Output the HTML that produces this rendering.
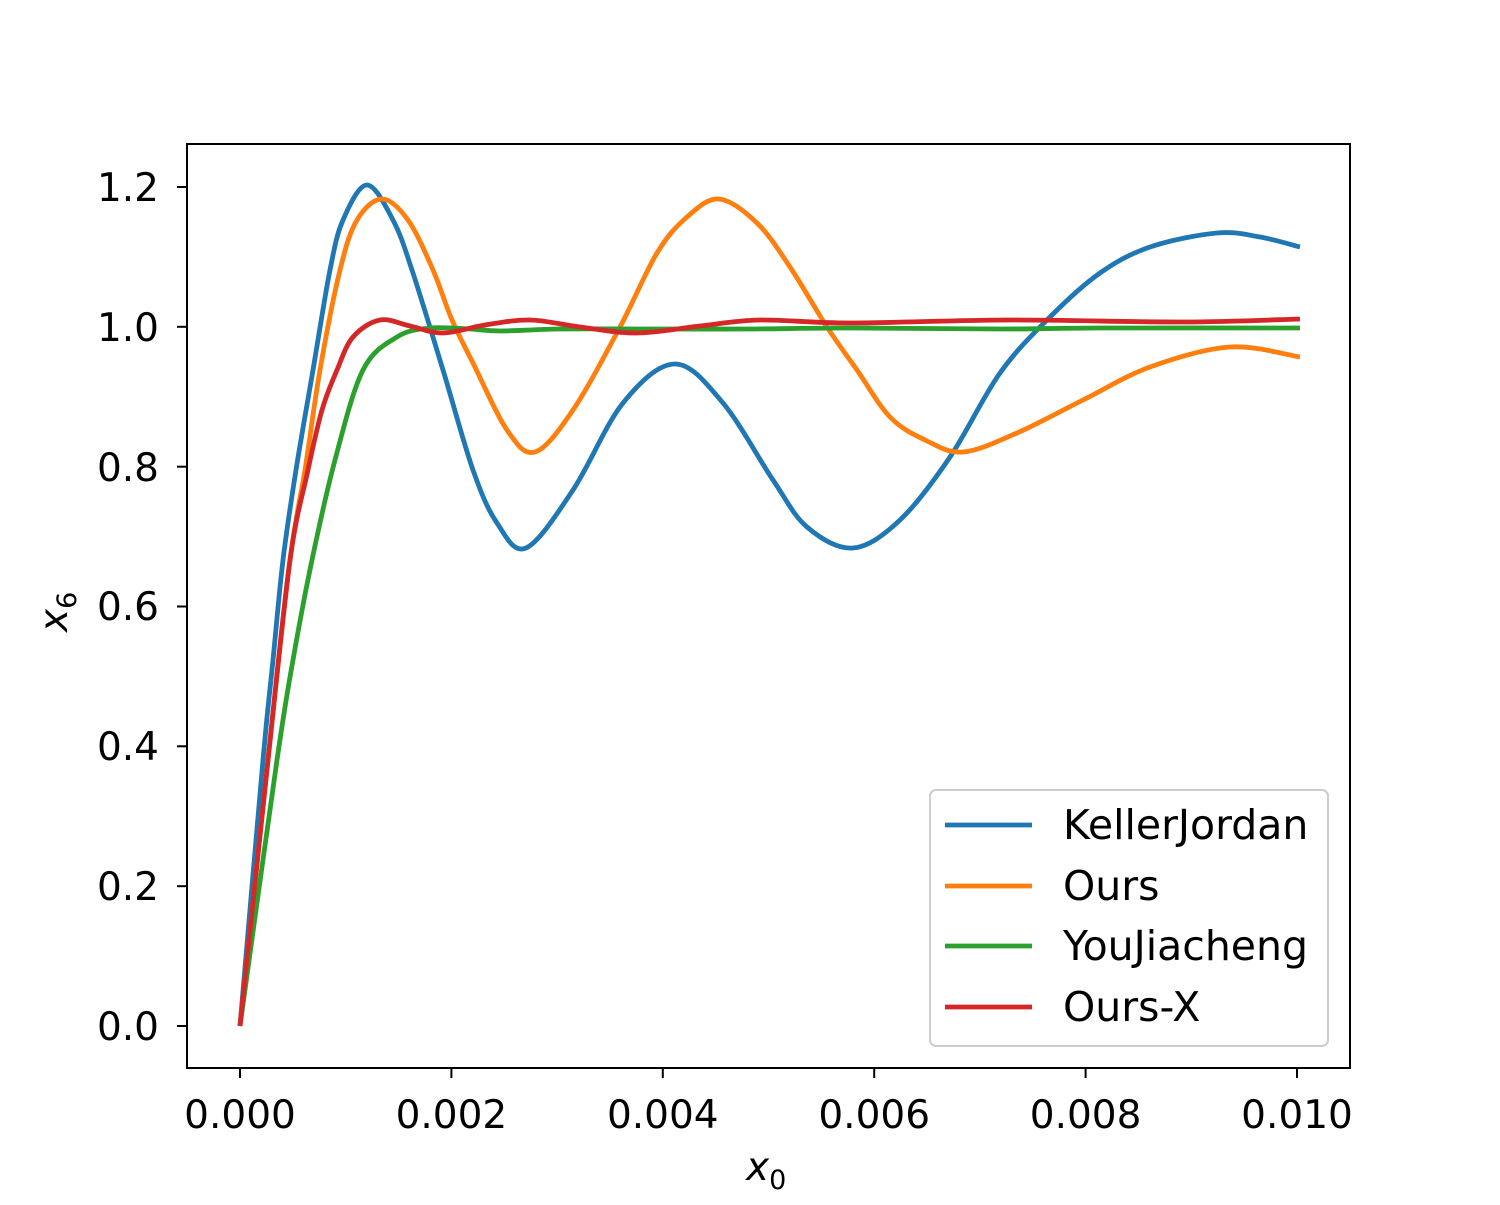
<!DOCTYPE html>
<html><head><meta charset="utf-8"><style>body{margin:0;background:#fff}</style></head><body>
<svg id="s" width="1500" height="1200" xmlns="http://www.w3.org/2000/svg" font-family="'DejaVu Sans','Liberation Sans',sans-serif">
<rect width="1500" height="1200" fill="#fff"/>
<g id="curves" fill="none" stroke-width="4.8" stroke-linejoin="round" stroke-linecap="butt"></g>
<rect x="187" y="144" width="1163" height="924" fill="none" stroke="#000" stroke-width="2"/>
<g stroke="#000" stroke-width="2">
<line x1="240" y1="1068" x2="240" y2="1078"/><line x1="451.4" y1="1068" x2="451.4" y2="1078"/><line x1="662.8" y1="1068" x2="662.8" y2="1078"/><line x1="874.2" y1="1068" x2="874.2" y2="1078"/><line x1="1085.6" y1="1068" x2="1085.6" y2="1078"/><line x1="1297" y1="1068" x2="1297" y2="1078"/>
<line x1="177" y1="1026" x2="187" y2="1026"/><line x1="177" y1="886.2" x2="187" y2="886.2"/><line x1="177" y1="746.3" x2="187" y2="746.3"/><line x1="177" y1="606.5" x2="187" y2="606.5"/><line x1="177" y1="466.7" x2="187" y2="466.7"/><line x1="177" y1="326.8" x2="187" y2="326.8"/><line x1="177" y1="187" x2="187" y2="187"/>
</g>
<g font-size="39" text-anchor="middle" fill="#000">
<text x="240" y="1128">0.000</text><text x="451.4" y="1128">0.002</text><text x="662.8" y="1128">0.004</text><text x="874.2" y="1128">0.006</text><text x="1085.6" y="1128">0.008</text><text x="1297" y="1128">0.010</text>
</g>
<g font-size="39" text-anchor="end" fill="#000">
<text x="159" y="1040">0.0</text><text x="159" y="900">0.2</text><text x="159" y="760">0.4</text><text x="159" y="620">0.6</text><text x="159" y="481">0.8</text><text x="159" y="341">1.0</text><text x="159" y="201">1.2</text>
</g>
<text x="746" y="1180" font-size="39" font-style="italic">x<tspan font-size="27" dy="9" font-style="normal">0</tspan></text>
<text transform="translate(67,632) rotate(-90)" font-size="39" font-style="italic">x<tspan font-size="27" dy="9" font-style="normal">6</tspan></text>
<rect x="930" y="790" width="398" height="256" rx="6" fill="#fff" fill-opacity="0.8" stroke="#ccc" stroke-width="2"/>
<g stroke-width="4.8">
<line x1="945" y1="825" x2="1032" y2="825" stroke="#1f77b4"/>
<line x1="945" y1="886" x2="1032" y2="886" stroke="#ff7f0e"/>
<line x1="945" y1="946" x2="1032" y2="946" stroke="#2ca02c"/>
<line x1="945" y1="1007" x2="1032" y2="1007" stroke="#d62728"/>
</g>
<g font-size="41" fill="#000">
<text x="1063" y="839">KellerJordan</text><text x="1063" y="900">Ours</text><text x="1063" y="960">YouJiacheng</text><text x="1063" y="1021">Ours-X</text>
</g>
</svg>
<script>
var D={
"#1f77b4":[[240,1026],[263,760],[273,660],[283,560],[296,470],[313,370],[330,270],[343,220],[367,185],[393,220],[412,270],[443,370],[473,470],[497,523],[526,548],[573,490],[623,403],[675,364],[723,403],[773,480],[807,527],[853,548],[900,520],[950,457],[1000,373],[1050,317],[1100,273],[1150,247],[1217,233],[1260,237],[1300,247]],
"#ff7f0e":[[240,1026],[268,760],[290,560],[305,470],[320,370],[340,270],[357,220],[382,199],[408,220],[433,270],[452,320],[473,363],[507,430],[535,452],[573,410],[620,327],[657,253],[687,217],[719,199],[757,223],[790,267],[827,327],[857,370],[890,417],[925,440],[963,452],[1017,433],[1083,400],[1150,367],[1230,347],[1300,357]],
"#2ca02c":[[240,1026],[277,760],[293,660],[312,560],[335,460],[363,370],[397,337],[430,328],[470,329],[500,331],[560,329],[650,329],[750,329],[850,328],[1000,329],[1100,328],[1300,328]],
"#d62728":[[240,1026],[268,760],[290,560],[308,470],[322,410],[337,370],[353,337],[380,320],[410,326],[443,333],[485,325],[530,320],[580,327],[637,333],[700,326],[760,320],[850,323],[1010,320],[1183,322],[1300,319]]};
var g=document.getElementById('curves');
for(var c in D){var p=D[c],d='M'+p[0][0]+','+p[0][1];
for(var i=0;i<p.length-1;i++){var p0=p[i-1]||p[i],p1=p[i],p2=p[i+1],p3=p[i+2]||p2;
d+='C'+(p1[0]+(p2[0]-p0[0])/6)+','+(p1[1]+(p2[1]-p0[1])/6)+' '+(p2[0]-(p3[0]-p1[0])/6)+','+(p2[1]-(p3[1]-p1[1])/6)+' '+p2[0]+','+p2[1];}
var e=document.createElementNS('http://www.w3.org/2000/svg','path');e.setAttribute('d',d);e.setAttribute('stroke',c);g.appendChild(e);}
</script>
</body></html>
